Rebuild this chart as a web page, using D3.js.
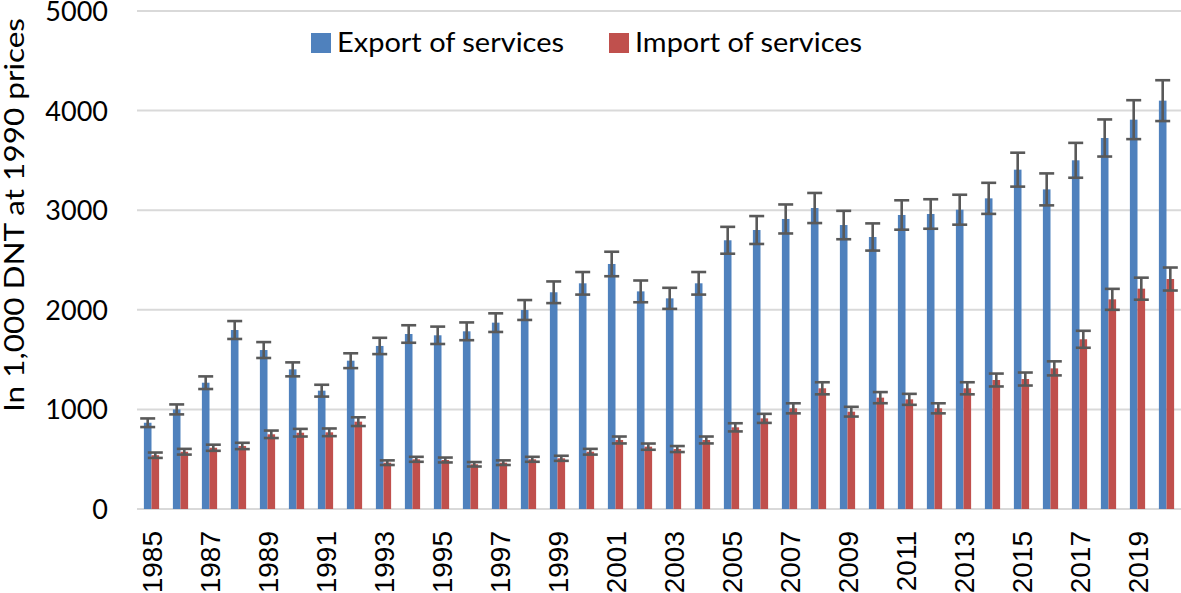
<!DOCTYPE html>
<html>
<head>
<meta charset="utf-8">
<script src="https://cdn.jsdelivr.net/npm/d3@7"></script>
<style>
  html, body { margin: 0; padding: 0; background: #ffffff; }
  svg { display: block; }
</style>
</head>
<body>
<svg id="chart" width="1181" height="593"></svg>
<script>
const years = ["1985","1986","1987","1988","1989","1990","1991","1992","1993","1994","1995","1996","1997","1998","1999","2000","2001","2002","2003","2004","2005","2006","2007","2008","2009","2010","2011","2012","2013","2014","2015","2016","2017","2018","2019","2020"];
const exportServices = [866,1000,1268,1797,1596,1402,1188,1489,1637,1757,1744,1784,1871,1998,2176,2266,2460,2185,2115,2266,2698,2801,2912,3022,2851,2731,2952,2962,3005,3119,3407,3209,3501,3725,3909,4100];
const importServices = [540,575,615,633,750,766,770,877,465,499,492,449,465,499,509,575,693,626,602,693,820,910,1011,1212,977,1118,1101,1011,1212,1295,1305,1412,1704,2105,2212,2309];
const seriesNames = ["Export of services","Import of services"];
const seriesColors = ["#4f81bd","#c0504d"];
const yTicks = [0,1000,2000,3000,4000,5000];
const xLabelYears = ["1985","1987","1989","1991","1993","1995","1997","1999","2001","2003","2005","2007","2009","2011","2013","2015","2017","2019"];
const errorPct = 0.05;
const yTitle = "In 1,000 DNT at 1990 prices";

const svg = d3.select("#chart");
const plot = {left: 137, right: 1181, top: 11, bottom: 509};

const x0 = d3.scaleBand().domain(years).range([plot.left, plot.right]).padding(0);
const bw = x0.bandwidth();
const groupW = bw * 0.525;
const x1 = d3.scaleBand().domain(seriesNames).range([bw/2 - groupW/2, bw/2 + groupW/2]).padding(0);
const y = d3.scaleLinear().domain([0, 5000]).range([plot.bottom, plot.top]);

// gridlines
svg.append("g").selectAll("line").data(yTicks).join("line")
  .attr("x1", plot.left).attr("x2", plot.right)
  .attr("y1", d => y(d)).attr("y2", d => y(d))
  .attr("stroke", "#d9d9d9").attr("stroke-width", 2);

// y axis labels
const yAxis = d3.axisLeft(y).tickValues(yTicks).tickSize(0).tickPadding(0).tickFormat(d3.format("d"));
const yg = svg.append("g").attr("transform", `translate(108,0)`).call(yAxis);
yg.select(".domain").remove();
yg.selectAll("text").attr("font-family", "Lato, 'Open Sans', sans-serif").attr("font-size", 27).attr("fill", "#000").attr("dy", "0.35em");

// x axis labels
const xAxis = d3.axisBottom(x0).tickValues(xLabelYears).tickSize(0).tickPadding(0);
const xg = svg.append("g").attr("transform", `translate(0,531)`).call(xAxis);
xg.select(".domain").remove();
xg.selectAll("text")
  .attr("font-family", "'Liberation Sans', Arial, sans-serif").attr("font-size", 28).attr("fill", "#000")
  .attr("text-anchor", "end").attr("transform", "rotate(-90)")
  .attr("x", 0).attr("y", 0).attr("dy", "0.36em").attr("dx", 0);

// bars
const data = years.map((yr, i) => ({year: yr, values: [exportServices[i], importServices[i]]}));
const groups = svg.append("g").selectAll("g").data(data).join("g")
  .attr("transform", d => `translate(${x0(d.year)},0)`);
groups.selectAll("rect").data(d => d.values.map((v, k) => ({name: seriesNames[k], v, k}))).join("rect")
  .attr("x", d => x1(d.name)).attr("width", x1.bandwidth())
  .attr("y", d => y(d.v)).attr("height", d => y(0) - y(d.v))
  .attr("fill", d => seriesColors[d.k]);

// error bars
const capW = 15;
const eb = groups.selectAll("g.err").data(d => d.values.map((v, k) => ({name: seriesNames[k], v, k}))).join("g").attr("class", "err")
  .attr("stroke", "#595959").attr("stroke-width", 2.6);
eb.append("line")
  .attr("x1", d => x1(d.name) + x1.bandwidth()/2).attr("x2", d => x1(d.name) + x1.bandwidth()/2)
  .attr("y1", d => y(d.v * (1 - errorPct))).attr("y2", d => y(d.v * (1 + errorPct)));
eb.append("line")
  .attr("x1", d => x1(d.name) + x1.bandwidth()/2 - capW/2).attr("x2", d => x1(d.name) + x1.bandwidth()/2 + capW/2)
  .attr("y1", d => y(d.v * (1 + errorPct))).attr("y2", d => y(d.v * (1 + errorPct)));
eb.append("line")
  .attr("x1", d => x1(d.name) + x1.bandwidth()/2 - capW/2).attr("x2", d => x1(d.name) + x1.bandwidth()/2 + capW/2)
  .attr("y1", d => y(d.v * (1 - errorPct))).attr("y2", d => y(d.v * (1 - errorPct)));

// y title
svg.append("text")
  .attr("transform", "translate(24,412) rotate(-90)")
  .attr("font-family", "Lato, 'Open Sans', sans-serif").attr("font-size", 27).attr("fill", "#000")
  .attr("textLength", 394).attr("lengthAdjust", "spacingAndGlyphs")
  .text(yTitle);

// legend
const legendX = [311, 609];
const lg = svg.append("g").selectAll("g").data(seriesNames).join("g")
  .attr("transform", (d, i) => `translate(${legendX[i]},0)`);
lg.append("rect").attr("x", 0).attr("y", 33).attr("width", 20).attr("height", 20)
  .attr("fill", (d, i) => seriesColors[i]);
lg.append("text").attr("x", 26).attr("y", 52)
  .attr("font-family", "Lato, 'Open Sans', sans-serif").attr("font-size", 27).attr("fill", "#000")
  .attr("textLength", 227).attr("lengthAdjust", "spacingAndGlyphs")
  .text(d => d);
</script>
</body>
</html>
